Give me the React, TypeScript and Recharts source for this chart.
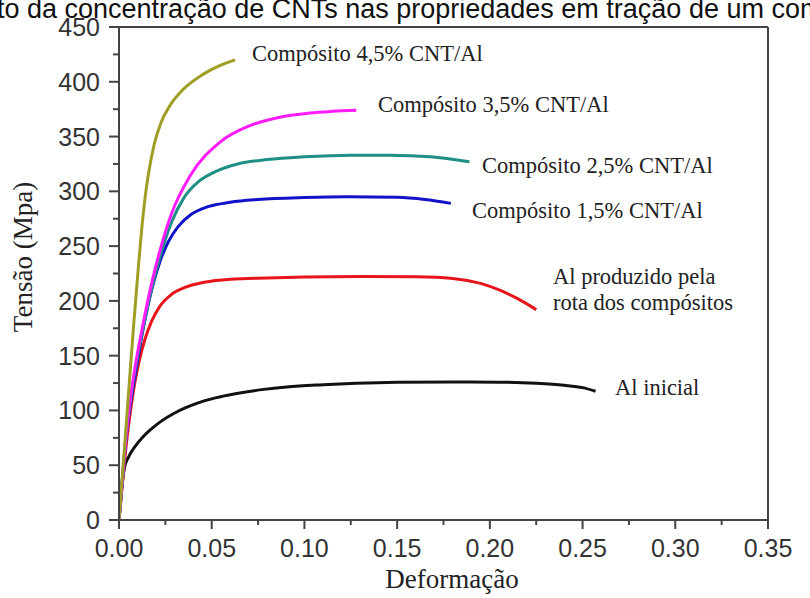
import React from "react";
import { LineChart, Line, XAxis, YAxis, ReferenceLine } from "recharts";

type Pt = { x: number; y: number };

// tick values (majors get a label, the rest are minor ticks)
const xTicks = [0, 0.025, 0.05, 0.075, 0.1, 0.125, 0.15, 0.175, 0.2, 0.225, 0.25, 0.275, 0.3, 0.325, 0.35];
const yTicks = [0, 25, 50, 75, 100, 125, 150, 175, 200, 225, 250, 275, 300, 325, 350, 375, 400, 425, 450];

// curves (deformação, tensão)
const comp45: Pt[] = [
  { x: 0, y: 0 }, { x: 0.003, y: 67 }, { x: 0.0055, y: 124 }, { x: 0.008, y: 180 },
  { x: 0.0105, y: 232 }, { x: 0.0125, y: 270 }, { x: 0.0145, y: 300 }, { x: 0.0165, y: 322 },
  { x: 0.019, y: 343 }, { x: 0.0225, y: 362 }, { x: 0.027, y: 377 }, { x: 0.034, y: 392 },
  { x: 0.0455, y: 407 }, { x: 0.054, y: 414.5 }, { x: 0.0626, y: 420 },
];
const comp35: Pt[] = [
  { x: 0, y: 0 }, { x: 0.002, y: 41 }, { x: 0.004, y: 80 }, { x: 0.006, y: 109 },
  { x: 0.0087, y: 140 }, { x: 0.0131, y: 180 }, { x: 0.0176, y: 216 }, { x: 0.0221, y: 246 },
  { x: 0.0284, y: 280 }, { x: 0.0383, y: 314 }, { x: 0.0545, y: 345 }, { x: 0.0706, y: 360 },
  { x: 0.085, y: 367 }, { x: 0.103, y: 371.5 }, { x: 0.115, y: 373 }, { x: 0.128, y: 374 },
];
const comp25: Pt[] = [
  { x: 0, y: 0 }, { x: 0.002, y: 40 }, { x: 0.004, y: 79 }, { x: 0.006, y: 107 },
  { x: 0.0087, y: 137 }, { x: 0.0131, y: 176 }, { x: 0.0176, y: 211 }, { x: 0.0221, y: 240 },
  { x: 0.0284, y: 272 }, { x: 0.035, y: 294 }, { x: 0.043, y: 309 }, { x: 0.052, y: 318 },
  { x: 0.064, y: 325 }, { x: 0.08, y: 329 }, { x: 0.1, y: 331.5 }, { x: 0.125, y: 333 },
  { x: 0.146, y: 333 }, { x: 0.168, y: 331.5 }, { x: 0.189, y: 327 },
];
const comp15: Pt[] = [
  { x: 0, y: 0 }, { x: 0.002, y: 40 }, { x: 0.004, y: 78 }, { x: 0.006, y: 104 },
  { x: 0.0087, y: 132 }, { x: 0.0131, y: 175 }, { x: 0.0176, y: 210 }, { x: 0.0221, y: 236 },
  { x: 0.0266, y: 254 }, { x: 0.032, y: 268 }, { x: 0.039, y: 279 }, { x: 0.048, y: 286 },
  { x: 0.06, y: 290 }, { x: 0.075, y: 292.5 }, { x: 0.1, y: 294.3 }, { x: 0.123, y: 295 },
  { x: 0.15, y: 294.5 }, { x: 0.165, y: 292.5 }, { x: 0.179, y: 289 },
];
const alRota: Pt[] = [
  { x: 0, y: 0 }, { x: 0.002, y: 36 }, { x: 0.004, y: 70 }, { x: 0.006, y: 97 },
  { x: 0.0085, y: 125 }, { x: 0.011, y: 146 }, { x: 0.014, y: 165 }, { x: 0.0175, y: 181 },
  { x: 0.022, y: 195 }, { x: 0.028, y: 205.5 }, { x: 0.036, y: 212.5 }, { x: 0.046, y: 217 },
  { x: 0.06, y: 219.8 }, { x: 0.08, y: 221 }, { x: 0.1, y: 221.8 }, { x: 0.13, y: 222.3 },
  { x: 0.16, y: 222 }, { x: 0.18, y: 220.5 }, { x: 0.195, y: 216 }, { x: 0.205, y: 210 },
  { x: 0.215, y: 202 }, { x: 0.225, y: 192 },
];
const alInicial: Pt[] = [
  { x: 0, y: 0 }, { x: 0.0015, y: 30 }, { x: 0.003, y: 48 }, { x: 0.005, y: 57 },
  { x: 0.0086, y: 67 }, { x: 0.013, y: 76 }, { x: 0.0167, y: 82 }, { x: 0.023, y: 90.5 },
  { x: 0.0293, y: 97 }, { x: 0.036, y: 102.5 }, { x: 0.0419, y: 106.5 }, { x: 0.052, y: 111.5 },
  { x: 0.0635, y: 115.5 }, { x: 0.077, y: 119 }, { x: 0.0904, y: 121.5 }, { x: 0.11, y: 123.5 },
  { x: 0.128, y: 124.8 }, { x: 0.15, y: 125.7 }, { x: 0.18, y: 126 }, { x: 0.205, y: 125.8 },
  { x: 0.225, y: 124.8 }, { x: 0.24, y: 123 }, { x: 0.25, y: 120.8 }, { x: 0.257, y: 117.5 },
];

const axisColor = "#444";
const sans = "'Liberation Sans', Arial, sans-serif";
const serif = "'Liberation Serif', 'Times New Roman', serif";

function XTick({ x, y, payload }: any) {
  const v = payload.value;
  const major = Math.round(v * 1000) % 50 === 0;
  const ay = y - 20; // axis line
  return (
    <g>
      <line x1={x} x2={x} y1={ay} y2={ay + (major ? 9 : 5)} stroke={axisColor} strokeWidth={2} />
      {major && (
        <text x={x} y={ay + 37} textAnchor="middle" fontSize={25} fill="#333" fontFamily={sans}>
          {v.toFixed(2)}
        </text>
      )}
    </g>
  );
}

function YTick({ x, y, payload }: any) {
  const v = payload.value;
  const major = v % 50 === 0;
  const ax = x + 19; // axis line
  return (
    <g>
      <line x1={ax} x2={ax - (major ? 10 : 6)} y1={y} y2={y} stroke={axisColor} strokeWidth={2} />
      {major && (
        <text x={x} y={y + 9} textAnchor="end" fontSize={25} fill="#333" fontFamily={sans}>
          {v}
        </text>
      )}
    </g>
  );
}

const labels = [
  { text: "Compósito 4,5% CNT/Al", x: 252, y: 61 },
  { text: "Compósito 3,5% CNT/Al", x: 378, y: 112 },
  { text: "Compósito 2,5% CNT/Al", x: 482, y: 173 },
  { text: "Compósito 1,5% CNT/Al", x: 472, y: 218 },
  { text: "Al produzido pela", x: 553, y: 284 },
  { text: "rota dos compósitos", x: 553, y: 310 },
  { text: "Al inicial", x: 615, y: 395 },
];

export default function App() {
  return (
    <div style={{ position: "absolute", left: 0, top: 0, width: 810, height: 598, overflow: "hidden", background: "#fff" }}>
      <LineChart width={810} height={598} margin={{ top: 27, right: 42, left: 0, bottom: 0 }}>
        <XAxis
          type="number"
          dataKey="x"
          domain={[0, 0.35]}
          ticks={xTicks}
          interval={0}
          height={78}
          tickSize={9}
          tickMargin={11}
          tickLine={false}
          axisLine={{ stroke: axisColor, strokeWidth: 2 }}
          tick={<XTick />}
          allowDataOverflow
        />
        <YAxis
          type="number"
          domain={[0, 450]}
          ticks={yTicks}
          interval={0}
          width={119}
          tickSize={10}
          tickMargin={9}
          tickLine={false}
          axisLine={{ stroke: axisColor, strokeWidth: 2 }}
          tick={<YTick />}
        />
        {/* frame top + right */}
        <ReferenceLine y={450} stroke={axisColor} strokeWidth={2} />
        <ReferenceLine x={0.35} stroke={axisColor} strokeWidth={2} />

        <Line data={alInicial} dataKey="y" type="monotone" stroke="#111" strokeWidth={3} dot={false} isAnimationActive={false} />
        <Line data={alRota} dataKey="y" type="monotone" stroke="#e8141c" strokeWidth={3} dot={false} isAnimationActive={false} />
        <Line data={comp15} dataKey="y" type="monotone" stroke="#1212c8" strokeWidth={3} dot={false} isAnimationActive={false} />
        <Line data={comp25} dataKey="y" type="monotone" stroke="#1f8f86" strokeWidth={3} dot={false} isAnimationActive={false} />
        <Line data={comp35} dataKey="y" type="monotone" stroke="#ff1cff" strokeWidth={3} dot={false} isAnimationActive={false} />
        <Line data={comp45} dataKey="y" type="monotone" stroke="#9e9e24" strokeWidth={3} dot={false} isAnimationActive={false} />
      </LineChart>

      <svg width={810} height={598} style={{ position: "absolute", left: 0, top: 0, pointerEvents: "none" }}>
        <text x={-3} y={18} fontSize={27} fill="#111" fontFamily={sans}>
          to da concentração de CNTs nas propriedades em tração de um com
        </text>
        {labels.map((l) => (
          <text key={l.text} x={l.x} y={l.y} fontSize={22.5} fill="#222" fontFamily={serif}>
            {l.text}
          </text>
        ))}
        <text x={32} y={257} fontSize={27} fill="#222" fontFamily={serif} textAnchor="middle" transform="rotate(-90 32 257)">
          Tensão (Mpa)
        </text>
        <text x={452} y={588} fontSize={27} fill="#222" fontFamily={serif} textAnchor="middle">
          Deformação
        </text>
      </svg>
    </div>
  );
}
